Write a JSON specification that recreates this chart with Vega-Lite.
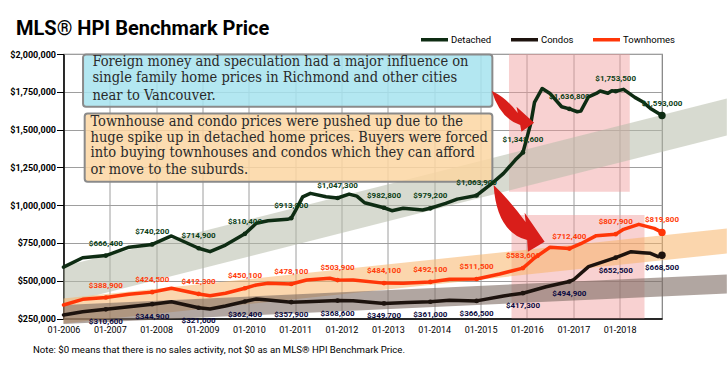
{
  "$schema": "https://vega.github.io/schema/vega-lite/v6.json",
  "width": 598.5,
  "height": 264.5,
  "autosize": {"type": "none"},
  "padding": {"left": 63.5, "top": 54, "right": 65, "bottom": 57.5},
  "background": "#ffffff",
  "title": {
    "text": "MLS® HPI Benchmark Price",
    "anchor": "start",
    "frame": "group",
    "baseline": "alphabetic",
    "dx": -47.5,
    "dy": 35,
    "offset": 4,
    "font": "Roboto, Liberation Sans, sans-serif",
    "fontSize": 20,
    "fontWeight": "bold",
    "color": "#000000"
  },
  "config": {
    "view": {"stroke": "#7f7f7f", "strokeWidth": 1.2},
    "axis": {
      "gridColor": "#9e9e9e",
      "gridWidth": 1,
      "gridOpacity": 1,
      "domainColor": "#000000",
      "domainWidth": 1.5,
      "labelColor": "#000000",
      "labelFont": "Roboto, Liberation Sans, sans-serif",
      "titleFont": "Roboto, Liberation Sans, sans-serif",
      "labelOverlap": false
    },
    "axisX": {
      "ticks": false,
      "labelPadding": 7,
      "labelFontSize": 9,
      "labelFlush": false,
      "labelOverlap": false,
      "titleAnchor": "start",
      "titleAlign": "left",
      "titleBaseline": "middle",
      "titleX": -31,
      "titleY": 31,
      "titleFontSize": 9.6,
      "titleFontWeight": "normal",
      "titleColor": "#000000"
    },
    "axisY": {
      "tickSize": 7,
      "tickColor": "#000000",
      "tickWidth": 1,
      "labelPadding": 1,
      "labelFontSize": 9,
      "labelFontWeight": "bold",
      "labelOverlap": false
    }
  },
  "datasets": {
    "pink": [
      {"date": "2015-08-13", "date2": "2018-03-22", "value": 2000000, "value2": 1089000},
      {"date": "2015-09-02", "date2": "2018-07-16", "value": 935000, "value2": 250000}
    ],
    "bandGrey": [
      {"date": "2006-01-01", "value": 595000, "value2": 350000},
      {"date": "2020-04-25", "value": 1705000, "value2": 1461000}
    ],
    "bandOrange": [
      {"date": "2006-01-01", "value": 382000, "value2": 217000},
      {"date": "2020-04-25", "value": 845000, "value2": 680000}
    ],
    "bandDark": [
      {"date": "2006-01-01", "value": 339000, "value2": 214000},
      {"date": "2020-04-25", "value": 541000, "value2": 415000}
    ],
    "boxes": [
      {"box": "blue", "date": "2006-06-04", "date2": "2015-04-04", "value": 1997000, "value2": 1651000},
      {"box": "orange", "date": "2006-06-17", "date2": "2015-04-04", "value": 1607000, "value2": 1155000}
    ],
    "boxText": [
      {"box": "blue", "date": "2006-08-17", "value": 1945000, "label": "Foreign money and speculation had a major influence on"},
      {"box": "blue", "date": "2006-08-17", "value": 1839000, "label": "single family home prices in Richmond and other cities"},
      {"box": "blue", "date": "2006-08-17", "value": 1724000, "label": "near to Vancouver."},
      {"box": "orange", "date": "2006-08-02", "value": 1548000, "label": "Townhouse and condo prices were pushed up due to the"},
      {"box": "orange", "date": "2006-08-02", "value": 1446000, "label": "huge spike up in detached home prices. Buyers were forced"},
      {"box": "orange", "date": "2006-08-02", "value": 1343000, "label": "into buying townhouses and condos which they can afford"},
      {"box": "orange", "date": "2006-08-02", "value": 1232500, "label": "or move to the suburds."}
    ],
    "arrow1": [{"date": "2015-09-12", "value": 1622800}],
    "arrow2": [{"date": "2015-10-28", "value": 914900}],
    "series": [
      {"series": "Detached", "date": "2006-01-01", "value": 590000},
      {"series": "Detached", "date": "2006-06-01", "value": 652000},
      {"series": "Detached", "date": "2006-12-01", "value": 666400},
      {"series": "Detached", "date": "2007-06-01", "value": 722000},
      {"series": "Detached", "date": "2007-12-01", "value": 740200},
      {"series": "Detached", "date": "2008-05-01", "value": 796000},
      {"series": "Detached", "date": "2008-12-01", "value": 714900},
      {"series": "Detached", "date": "2009-03-01", "value": 692000},
      {"series": "Detached", "date": "2009-07-01", "value": 736000},
      {"series": "Detached", "date": "2009-12-01", "value": 810400},
      {"series": "Detached", "date": "2010-03-01", "value": 880000},
      {"series": "Detached", "date": "2010-06-01", "value": 897000},
      {"series": "Detached", "date": "2010-11-01", "value": 906000},
      {"series": "Detached", "date": "2010-12-01", "value": 913800},
      {"series": "Detached", "date": "2011-01-01", "value": 960000},
      {"series": "Detached", "date": "2011-03-01", "value": 1055000},
      {"series": "Detached", "date": "2011-05-01", "value": 1078000},
      {"series": "Detached", "date": "2011-09-01", "value": 1055000},
      {"series": "Detached", "date": "2011-12-01", "value": 1047300},
      {"series": "Detached", "date": "2012-03-01", "value": 1073000},
      {"series": "Detached", "date": "2012-05-01", "value": 1060000},
      {"series": "Detached", "date": "2012-07-01", "value": 1016000},
      {"series": "Detached", "date": "2012-12-01", "value": 982800},
      {"series": "Detached", "date": "2013-02-01", "value": 963000},
      {"series": "Detached", "date": "2013-05-01", "value": 979000},
      {"series": "Detached", "date": "2013-10-01", "value": 968000},
      {"series": "Detached", "date": "2013-12-01", "value": 979200},
      {"series": "Detached", "date": "2014-04-01", "value": 1012000},
      {"series": "Detached", "date": "2014-07-01", "value": 1040000},
      {"series": "Detached", "date": "2014-12-01", "value": 1063900},
      {"series": "Detached", "date": "2015-04-01", "value": 1144000},
      {"series": "Detached", "date": "2015-07-01", "value": 1210000},
      {"series": "Detached", "date": "2015-10-01", "value": 1298000},
      {"series": "Detached", "date": "2015-12-01", "value": 1348600},
      {"series": "Detached", "date": "2016-02-01", "value": 1541000},
      {"series": "Detached", "date": "2016-03-01", "value": 1680000},
      {"series": "Detached", "date": "2016-05-01", "value": 1772000},
      {"series": "Detached", "date": "2016-07-01", "value": 1739000},
      {"series": "Detached", "date": "2016-10-01", "value": 1651000},
      {"series": "Detached", "date": "2016-12-01", "value": 1636800},
      {"series": "Detached", "date": "2017-02-01", "value": 1618000},
      {"series": "Detached", "date": "2017-03-01", "value": 1622000},
      {"series": "Detached", "date": "2017-05-01", "value": 1717000},
      {"series": "Detached", "date": "2017-07-01", "value": 1739000},
      {"series": "Detached", "date": "2017-08-01", "value": 1755000},
      {"series": "Detached", "date": "2017-10-01", "value": 1740000},
      {"series": "Detached", "date": "2017-11-01", "value": 1757000},
      {"series": "Detached", "date": "2017-12-01", "value": 1753500},
      {"series": "Detached", "date": "2018-02-01", "value": 1766000},
      {"series": "Detached", "date": "2018-05-01", "value": 1713000},
      {"series": "Detached", "date": "2018-07-01", "value": 1684000},
      {"series": "Detached", "date": "2018-09-01", "value": 1640000},
      {"series": "Detached", "date": "2018-12-01", "value": 1593000},
      {"series": "Townhomes", "date": "2006-01-01", "value": 339000},
      {"series": "Townhomes", "date": "2006-06-01", "value": 377000},
      {"series": "Townhomes", "date": "2006-12-01", "value": 388900},
      {"series": "Townhomes", "date": "2007-06-01", "value": 410000},
      {"series": "Townhomes", "date": "2007-12-01", "value": 424500},
      {"series": "Townhomes", "date": "2008-05-01", "value": 450000},
      {"series": "Townhomes", "date": "2008-12-01", "value": 412300},
      {"series": "Townhomes", "date": "2009-03-01", "value": 401000},
      {"series": "Townhomes", "date": "2009-07-01", "value": 417000},
      {"series": "Townhomes", "date": "2009-12-01", "value": 450100},
      {"series": "Townhomes", "date": "2010-03-01", "value": 472000},
      {"series": "Townhomes", "date": "2010-06-01", "value": 483000},
      {"series": "Townhomes", "date": "2010-12-01", "value": 478100},
      {"series": "Townhomes", "date": "2011-04-01", "value": 505000},
      {"series": "Townhomes", "date": "2011-10-01", "value": 516000},
      {"series": "Townhomes", "date": "2011-12-01", "value": 503900},
      {"series": "Townhomes", "date": "2012-04-01", "value": 505000},
      {"series": "Townhomes", "date": "2012-12-01", "value": 484100},
      {"series": "Townhomes", "date": "2013-05-01", "value": 483000},
      {"series": "Townhomes", "date": "2013-12-01", "value": 492100},
      {"series": "Townhomes", "date": "2014-05-01", "value": 509000},
      {"series": "Townhomes", "date": "2014-12-01", "value": 511500},
      {"series": "Townhomes", "date": "2015-06-01", "value": 544000},
      {"series": "Townhomes", "date": "2015-12-01", "value": 583600},
      {"series": "Townhomes", "date": "2016-03-01", "value": 650000},
      {"series": "Townhomes", "date": "2016-07-01", "value": 721000},
      {"series": "Townhomes", "date": "2016-12-01", "value": 712400},
      {"series": "Townhomes", "date": "2017-03-01", "value": 745000},
      {"series": "Townhomes", "date": "2017-07-01", "value": 798000},
      {"series": "Townhomes", "date": "2017-12-01", "value": 807900},
      {"series": "Townhomes", "date": "2018-02-01", "value": 840000},
      {"series": "Townhomes", "date": "2018-06-01", "value": 873000},
      {"series": "Townhomes", "date": "2018-10-01", "value": 846000},
      {"series": "Townhomes", "date": "2018-12-01", "value": 819800},
      {"series": "Condos", "date": "2006-01-01", "value": 273000},
      {"series": "Condos", "date": "2006-06-01", "value": 295000},
      {"series": "Condos", "date": "2006-12-01", "value": 310600},
      {"series": "Condos", "date": "2007-06-01", "value": 328000},
      {"series": "Condos", "date": "2007-12-01", "value": 344900},
      {"series": "Condos", "date": "2008-05-01", "value": 361000},
      {"series": "Condos", "date": "2008-12-01", "value": 321000},
      {"series": "Condos", "date": "2009-03-01", "value": 313000},
      {"series": "Condos", "date": "2009-07-01", "value": 333000},
      {"series": "Condos", "date": "2009-12-01", "value": 362400},
      {"series": "Condos", "date": "2010-03-01", "value": 379000},
      {"series": "Condos", "date": "2010-06-01", "value": 372000},
      {"series": "Condos", "date": "2010-12-01", "value": 357900},
      {"series": "Condos", "date": "2011-04-01", "value": 361000},
      {"series": "Condos", "date": "2011-12-01", "value": 368600},
      {"series": "Condos", "date": "2012-04-01", "value": 368000},
      {"series": "Condos", "date": "2012-12-01", "value": 349700},
      {"series": "Condos", "date": "2013-06-01", "value": 356000},
      {"series": "Condos", "date": "2013-12-01", "value": 361000},
      {"series": "Condos", "date": "2014-05-01", "value": 370000},
      {"series": "Condos", "date": "2014-12-01", "value": 366500},
      {"series": "Condos", "date": "2015-07-01", "value": 399000},
      {"series": "Condos", "date": "2015-12-01", "value": 417300},
      {"series": "Condos", "date": "2016-06-01", "value": 460000},
      {"series": "Condos", "date": "2016-12-01", "value": 494900},
      {"series": "Condos", "date": "2017-01-01", "value": 505000},
      {"series": "Condos", "date": "2017-05-01", "value": 593000},
      {"series": "Condos", "date": "2017-12-01", "value": 652500},
      {"series": "Condos", "date": "2018-04-01", "value": 692000},
      {"series": "Condos", "date": "2018-07-01", "value": 685000},
      {"series": "Condos", "date": "2018-09-01", "value": 681000},
      {"series": "Condos", "date": "2018-11-01", "value": 659000},
      {"series": "Condos", "date": "2018-12-01", "value": 668500}
    ]
  },
  "layer": [
    {
      "data": {"name": "pink"},
      "mark": {"type": "rect", "fill": "#ef9a9a", "opacity": 0.45},
      "encoding": {
        "x": {
          "field": "date",
          "type": "temporal",
          "scale": {"domain": [{"year": 2006, "month": 1, "date": 1}, {"year": 2018, "month": 12, "date": 1}]},
          "axis": {
            "title": "Note: $0 means that there is no sales activity, not $0 as an MLS® HPI Benchmark Price.",
            "format": "%m-%Y",
            "tickCount": {"interval": "year", "step": 1}
          }
        },
        "x2": {"field": "date2"},
        "y": {
          "field": "value",
          "type": "quantitative",
          "scale": {"domain": [250000, 2000000], "nice": false, "zero": false},
          "axis": {
            "title": null,
            "values": [250000, 500000, 750000, 1000000, 1250000, 1500000, 1750000, 2000000],
            "tickCount": 20,
            "format": "$,.0f",
            "labelOverlap": false
          }
        },
        "y2": {"field": "value2"}
      }
    },
    {
      "data": {"name": "bandGrey"},
      "mark": {"type": "area", "fill": "#b7bcaa", "opacity": 0.55},
      "encoding": {
        "x": {"field": "date", "type": "temporal"},
        "y": {"field": "value", "type": "quantitative"},
        "y2": {"field": "value2"}
      }
    },
    {
      "data": {"name": "bandOrange"},
      "mark": {"type": "area", "fill": "#f7b56a", "opacity": 0.55},
      "encoding": {
        "x": {"field": "date", "type": "temporal"},
        "y": {"field": "value", "type": "quantitative"},
        "y2": {"field": "value2"}
      }
    },
    {
      "data": {"name": "bandDark"},
      "mark": {"type": "area", "fill": "#7d6a62", "opacity": 0.6},
      "encoding": {
        "x": {"field": "date", "type": "temporal"},
        "y": {"field": "value", "type": "quantitative"},
        "y2": {"field": "value2"}
      }
    },
    {
      "data": {"name": "boxes"},
      "transform": [{"filter": "datum.box == 'blue'"}],
      "mark": {"type": "rect", "fill": "#a6e3ee", "fillOpacity": 0.85, "stroke": "#8a8a8a", "strokeWidth": 2, "cornerRadius": 3},
      "encoding": {
        "x": {"field": "date", "type": "temporal"},
        "x2": {"field": "date2"},
        "y": {"field": "value", "type": "quantitative"},
        "y2": {"field": "value2"}
      }
    },
    {
      "data": {"name": "boxes"},
      "transform": [{"filter": "datum.box == 'orange'"}],
      "mark": {"type": "rect", "fill": "#fbd6a2", "fillOpacity": 0.85, "stroke": "#8a8a8a", "strokeWidth": 2, "cornerRadius": 3},
      "encoding": {
        "x": {"field": "date", "type": "temporal"},
        "x2": {"field": "date2"},
        "y": {"field": "value", "type": "quantitative"},
        "y2": {"field": "value2"}
      }
    },
    {
      "data": {"name": "boxText"},
      "mark": {"type": "text", "align": "left", "baseline": "middle", "font": "DejaVu Serif Condensed, Liberation Serif, serif", "fontSize": 14.5, "color": "#2a2a2a"},
      "encoding": {
        "x": {"field": "date", "type": "temporal"},
        "y": {"field": "value", "type": "quantitative"},
        "text": {"field": "label"}
      }
    },
    {
      "data": {"name": "series"},
      "mark": {"type": "line", "strokeWidth": 3.5, "strokeJoin": "round", "strokeCap": "round"},
      "encoding": {
        "x": {"field": "date", "type": "temporal"},
        "y": {"field": "value", "type": "quantitative"},
        "color": {
          "field": "series",
          "type": "nominal",
          "scale": {"domain": ["Detached", "Condos", "Townhomes"], "range": ["#0e2c13", "#1d130e", "#ff3608"]},
          "legend": {
            "orient": "none",
            "legendX": 355.5,
            "legendY": -30,
            "direction": "horizontal",
            "title": null,
            "padding": 0,
            "symbolType": "stroke",
            "symbolStrokeWidth": 3.5,
            "symbolSize": 729,
            "labelFont": "Roboto, Liberation Sans, sans-serif",
            "labelFontSize": 9.5,
            "labelColor": "#000000",
            "labelOffset": 1,
            "columnPadding": 12
          }
        }
      }
    },
    {
      "data": {"name": "series"},
      "transform": [{"filter": "utcmonth(toDate(datum.date)) == 11"}],
      "mark": {"type": "point", "filled": true, "size": 22, "opacity": 1},
      "encoding": {
        "x": {"field": "date", "type": "temporal"},
        "y": {"field": "value", "type": "quantitative"},
        "color": {"field": "series", "type": "nominal", "legend": null}
      }
    },
    {
      "data": {"name": "series"},
      "transform": [{"filter": "utcyear(toDate(datum.date)) == 2018 && utcmonth(toDate(datum.date)) == 11"}],
      "mark": {"type": "point", "filled": true, "size": 55, "opacity": 1},
      "encoding": {
        "x": {"field": "date", "type": "temporal"},
        "y": {"field": "value", "type": "quantitative"},
        "color": {"field": "series", "type": "nominal", "legend": null}
      }
    },
    {
      "data": {"name": "series"},
      "transform": [{"filter": "datum.series == 'Detached' && utcmonth(toDate(datum.date)) == 11"}],
      "mark": {"type": "text", "dy": -12, "font": "Roboto, Liberation Sans, sans-serif", "fontSize": 8, "fontWeight": "bold", "color": "#0b4016"},
      "encoding": {
        "x": {"field": "date", "type": "temporal"},
        "y": {"field": "value", "type": "quantitative"},
        "text": {"field": "value", "type": "quantitative", "format": "$,.0f"}
      }
    },
    {
      "data": {"name": "series"},
      "transform": [{"filter": "datum.series == 'Townhomes' && utcmonth(toDate(datum.date)) == 11"}],
      "mark": {"type": "text", "dy": -12, "font": "Roboto, Liberation Sans, sans-serif", "fontSize": 8, "fontWeight": "bold", "color": "#ff3c0a"},
      "encoding": {
        "x": {"field": "date", "type": "temporal"},
        "y": {"field": "value", "type": "quantitative"},
        "text": {"field": "value", "type": "quantitative", "format": "$,.0f"}
      }
    },
    {
      "data": {"name": "series"},
      "transform": [{"filter": "datum.series == 'Condos' && utcmonth(toDate(datum.date)) == 11"}],
      "mark": {"type": "text", "dy": 13, "font": "Roboto, Liberation Sans, sans-serif", "fontSize": 8, "fontWeight": "bold", "color": "#0a0a40"},
      "encoding": {
        "x": {"field": "date", "type": "temporal"},
        "y": {"field": "value", "type": "quantitative"},
        "text": {"field": "value", "type": "quantitative", "format": "$,.0f"}
      }
    },
    {
      "data": {"name": "arrow1"},
      "mark": {"type": "point", "filled": true, "fill": "#d91e1a", "opacity": 1, "strokeWidth": 0, "size": 3600,
        "shape": "M-0.7,-0.667Q-0.2,-0.433 0.167,0.067L0.123,-0.143L0.71,0.39L0.29,0.69L0.247,0.467Q-0.433,0.233 -0.7,-0.667Z"},
      "encoding": {
        "x": {"field": "date", "type": "temporal"},
        "y": {"field": "value", "type": "quantitative"}
      }
    },
    {
      "data": {"name": "arrow2"},
      "mark": {"type": "point", "filled": true, "fill": "#d91e1a", "opacity": 1, "strokeWidth": 0, "size": 6400,
        "shape": "M-0.625,-0.825Q-0.225,-0.45 0.175,0.1L0.15,-0.133L0.65,0.593L0.233,0.843L0.213,0.55Q-0.55,0.35 -0.625,-0.825Z"},
      "encoding": {
        "x": {"field": "date", "type": "temporal"},
        "y": {"field": "value", "type": "quantitative"}
      }
    }
  ]
}
